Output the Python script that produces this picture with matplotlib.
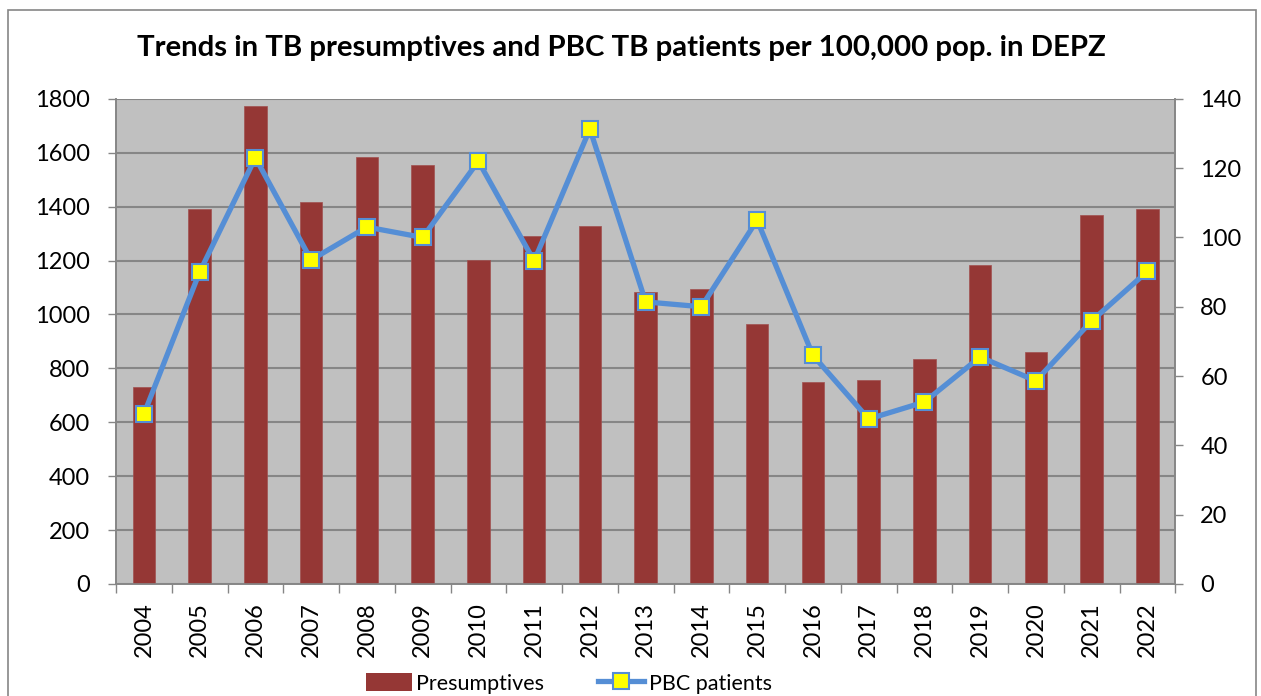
import matplotlib
matplotlib.use("Agg")
import matplotlib.pyplot as plt
from matplotlib.lines import Line2D
from matplotlib.patches import Patch, Rectangle
import numpy as np

years = ["2004", "2005", "2006", "2007", "2008", "2009", "2010", "2011", "2012", "2013",
         "2014", "2015", "2016", "2017", "2018", "2019", "2020", "2021", "2022"]
presumptives = [731, 1392, 1772, 1416, 1585, 1555, 1202, 1292, 1327, 1084,
                1095, 965, 750, 757, 834, 1184, 861, 1370, 1392]
pbc_patients = [49, 90, 123, 93.5, 103, 100, 122, 93.2, 131.3, 81.4,
                80, 105, 66, 47.6, 52.5, 65.5, 58.6, 75.9, 90.2]

title = "Trends in TB presumptives and PBC TB patients per 100,000 pop. in DEPZ"

plt.rcParams['font.family'] = ['Lato', 'DejaVu Sans']

fig = plt.figure(figsize=(12.61, 6.96), dpi=100)
ax = fig.add_axes([0.092, 0.161, 0.840, 0.697])
ax2 = ax.twinx()

x = np.arange(len(years))
ax.set_facecolor('#C0C0C0')
ax.bar(x, presumptives, width=0.4, color='#953735', edgecolor='#A05050', linewidth=0.5, zorder=3)
ax.set_xlim(-0.5, len(years) - 0.5)
ax.set_ylim(0, 1800)
ax.set_yticks(np.arange(0, 1801, 200))
ax.grid(axis='y', color='#868686', linewidth=1.5, zorder=0)
ax.set_axisbelow(True)

ax2.plot(x, pbc_patients, color='#558ED5', linewidth=3.8, marker='s', markersize=12,
         markerfacecolor='#FFFF00', markeredgecolor='#558ED5', markeredgewidth=1.5, zorder=5)
ax2.set_ylim(0, 140)
ax2.set_yticks(np.arange(0, 141, 20))

ax.set_xticks(x)
ax.set_xticklabels(years, rotation=90, fontsize=17)
ax.tick_params(axis='x', which='major', length=0, pad=13)
ax.set_xticks(np.arange(-0.5, len(years), 1), minor=True)
ax.tick_params(axis='x', which='minor', length=6.5, color='#868686', width=1)
ax.tick_params(axis='y', labelsize=17, length=6, color='#868686', width=1, pad=13)
ax2.tick_params(axis='y', labelsize=17, length=6, color='#868686', width=1, pad=12)

for a in (ax, ax2):
    for s in a.spines.values():
        s.set_color('#868686')
        s.set_linewidth(1.2)
    a.spines['top'].set_visible(False)

fig.text(0.4925, 0.931, title, ha='center', va='center', fontsize=21.2, fontweight='bold')

handles = [Patch(facecolor='#953735', edgecolor='none'),
           Line2D([0], [0], color='#558ED5', linewidth=3.8, marker='s', markersize=12,
                  markerfacecolor='#FFFF00', markeredgecolor='#558ED5', markeredgewidth=1.5)]
fig.legend(handles, ['Presumptives', 'PBC patients'], loc='center', bbox_to_anchor=(0.451, 0.018),
           ncol=2, frameon=False, fontsize=15.5, handlelength=2.15, columnspacing=2.5,
           handletextpad=0.2, handleheight=0.9)

fig.patches.append(Rectangle((0.006, -0.05), 0.99, 1.035, transform=fig.transFigure,
                             fill=False, edgecolor='#868686', linewidth=1.2))

fig.savefig('out.png', dpi=100)
